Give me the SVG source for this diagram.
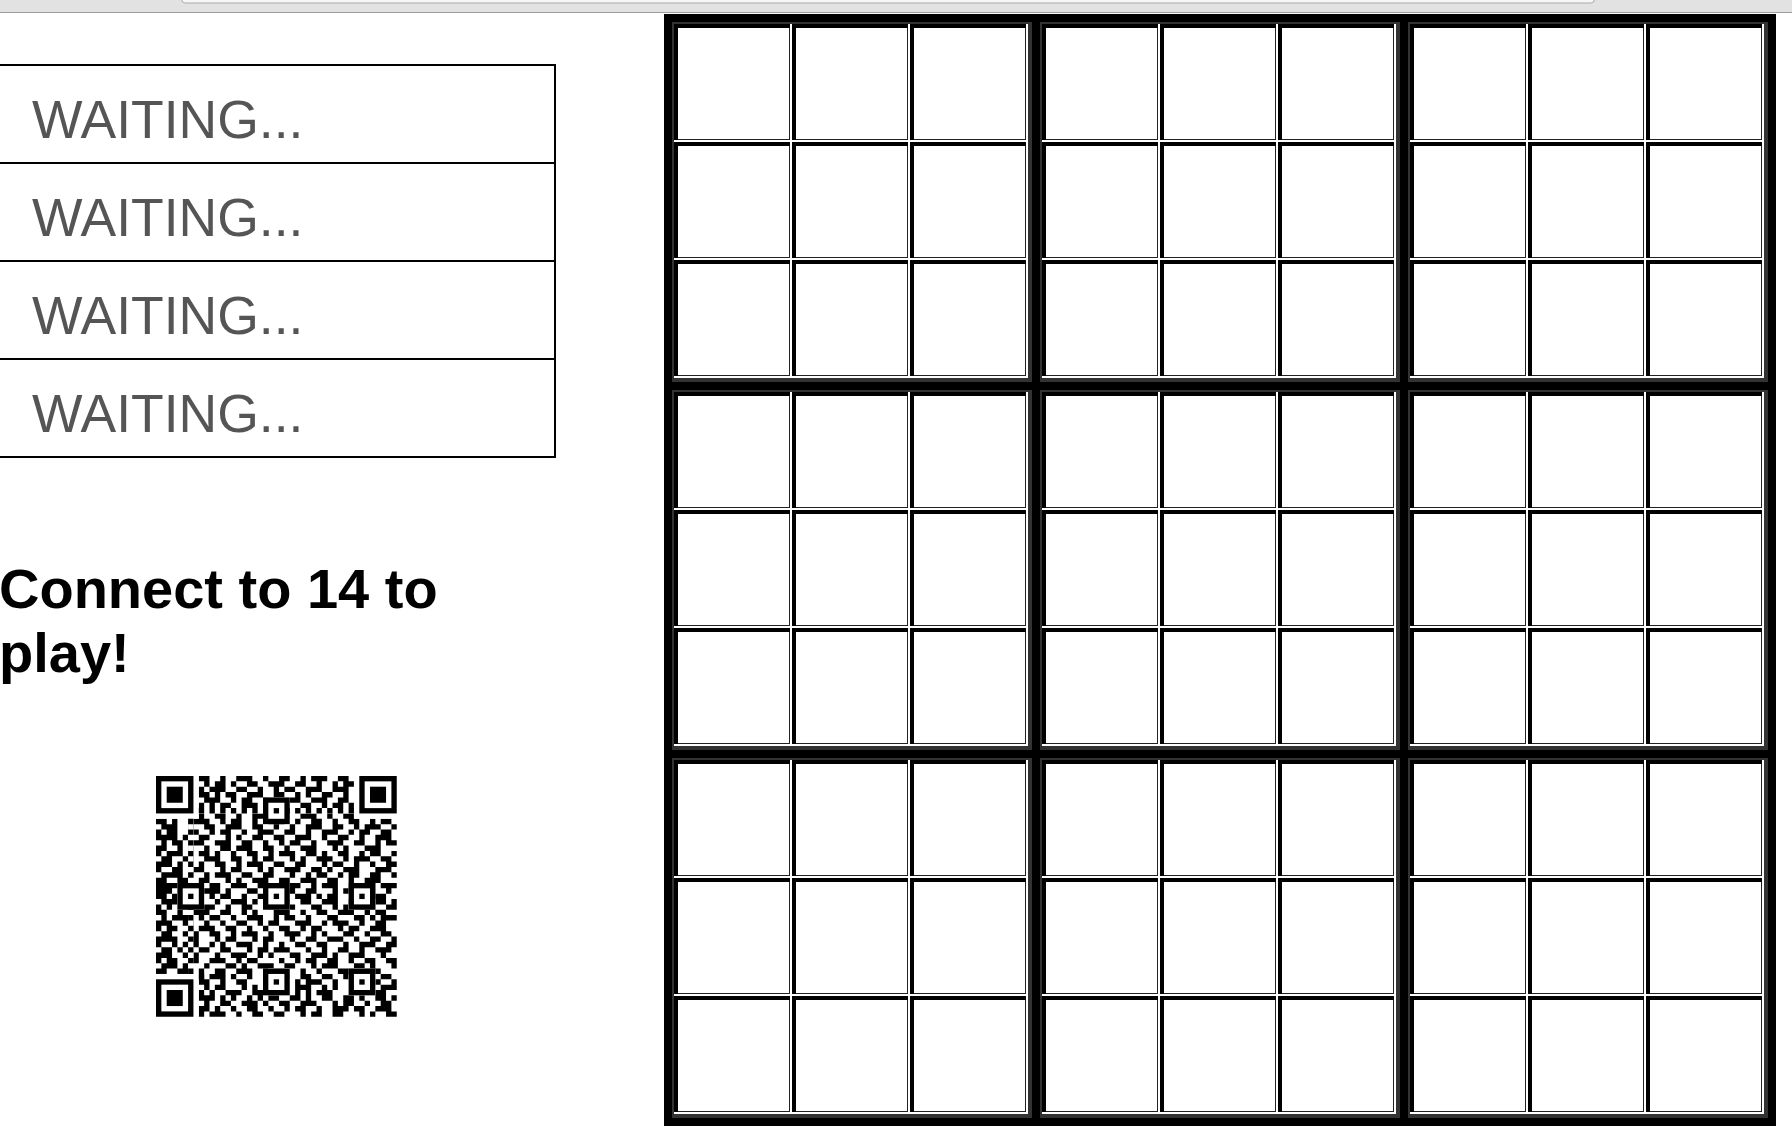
<svg xmlns="http://www.w3.org/2000/svg" xmlns:xlink="http://www.w3.org/1999/xlink" width="1792" height="1134" viewBox="0 0 1792 1134">
<style>
.wait{font-family:"Liberation Sans",Arial,Helvetica,sans-serif;font-size:53.5px;fill:#555555;}
.msg{font-family:"Liberation Sans",Arial,Helvetica,sans-serif;font-size:56px;font-weight:bold;fill:#000;}
.pbox{fill:#fff;stroke:#000;stroke-width:2;}
</style>
<defs>
<g id="cell">
<rect width="118" height="118" fill="#fff"/>
<path d="M0 0h116v4H4v112H0z" fill="#000"/>
<path d="M115 4h1v112H4v-1h111z" fill="#222"/>
</g>
<g id="block">
<rect width="360" height="360" fill="#333"/>
<use href="#cell" x="2" y="2"/><use href="#cell" x="120" y="2"/><use href="#cell" x="238" y="2"/>
<use href="#cell" x="2" y="120"/><use href="#cell" x="120" y="120"/><use href="#cell" x="238" y="120"/>
<use href="#cell" x="2" y="238"/><use href="#cell" x="120" y="238"/><use href="#cell" x="238" y="238"/>
</g>
<g id="finder"><rect width="7" height="7" fill="#000"/><rect x="1" y="1" width="5" height="5" fill="#fff"/><rect x="2" y="2" width="3" height="3" fill="#000"/></g>
<g id="align"><rect width="5" height="5" fill="#000"/><rect x="1" y="1" width="3" height="3" fill="#fff"/><rect x="2" y="2" width="1" height="1" fill="#000"/></g>
</defs>
<rect width="1792" height="1134" fill="#fff"/>
<g id="topbar">
<rect x="0" y="0" width="1792" height="13" fill="#e2e2e2"/>
<rect x="181.5" y="-10" width="1413" height="13" rx="4" fill="#f7f7f7" stroke="#a9a9a9" stroke-width="1"/>
<line x1="0" y1="12.5" x2="1792" y2="12.5" stroke="#9c9c9c" stroke-width="1"/>
</g>
<g id="players">
<g id="player1"><rect class="pbox" x="-10" y="65" width="565" height="98"/><text class="wait" x="32" y="138">WAITING...</text></g>
<g id="player2"><rect class="pbox" x="-10" y="163" width="565" height="98"/><text class="wait" x="32" y="236">WAITING...</text></g>
<g id="player3"><rect class="pbox" x="-10" y="261" width="565" height="98"/><text class="wait" x="32" y="334">WAITING...</text></g>
<g id="player4"><rect class="pbox" x="-10" y="359" width="565" height="98"/><text class="wait" x="32" y="432">WAITING...</text></g>
</g>
<g id="message">
<text class="msg" x="-1" y="608">Connect to 14 to</text>
<text class="msg" x="-1" y="672">play!</text>
</g>
<g id="qr" transform="translate(156 776) scale(5.35)">
<path fill="none" stroke="#000" stroke-width="1" d="M8 0.5h2M12 0.5h1M15 0.5h3M20 0.5h1M23 0.5h2M27 0.5h1M29 0.5h3M34 0.5h2
M9 1.5h1M11 1.5h2M14 1.5h1M17 1.5h2M21 1.5h3M26 1.5h2M30 1.5h1M33 1.5h1M35 1.5h2
M8 2.5h1M10 2.5h3M15 2.5h2M19 2.5h1M22 2.5h1M24 2.5h2M28 2.5h3M33 2.5h3
M8 3.5h2M11 3.5h1M13 3.5h2M17 3.5h3M22 3.5h2M26 3.5h1M28 3.5h1M31 3.5h2M35 3.5h1
M9 4.5h3M14 4.5h1M16 4.5h2M20 4.5h1M25 4.5h2M29 4.5h3M34 4.5h2
M8 5.5h1M10 5.5h1M12 5.5h2M16 5.5h3M21 5.5h1M23 5.5h1M27 5.5h2M31 5.5h1M33 5.5h2M36 5.5h1
M8 7.5h1M11 7.5h2M15 7.5h1M18 7.5h2M24 7.5h1M27 7.5h3M32 7.5h1M35 7.5h2
M0 8.5h2M3 8.5h1M7 8.5h3M12 8.5h1M14 8.5h2M18 8.5h1M21 8.5h3M26 8.5h1M29 8.5h2M33 8.5h1M36 8.5h2M40 8.5h1M42 8.5h2
M1 9.5h3M6 9.5h1M9 9.5h2M13 9.5h3M18 9.5h2M22 9.5h1M25 9.5h1M28 9.5h3M33 9.5h2M37 9.5h1M39 9.5h3M44 9.5h1
M0 10.5h1M2 10.5h2M7 10.5h1M10 10.5h1M12 10.5h2M16 10.5h1M19 10.5h3M24 10.5h2M28 10.5h1M31 10.5h3M36 10.5h1M38 10.5h2M42 10.5h2
M0 11.5h4M5 11.5h1M8 11.5h2M13 11.5h1M15 11.5h1M18 11.5h2M22 11.5h2M26 11.5h3M31 11.5h1M34 11.5h2M38 11.5h1M41 11.5h3
M1 12.5h1M3 12.5h2M7 12.5h2M11 12.5h3M16 12.5h2M20 12.5h1M23 12.5h1M25 12.5h2M29 12.5h1M32 12.5h3M37 12.5h2M41 12.5h1M43 12.5h2
M0 13.5h2M4 13.5h1M6 13.5h1M9 13.5h1M12 13.5h2M15 13.5h3M20 13.5h2M24 13.5h1M27 13.5h3M33 13.5h1M35 13.5h1M39 13.5h3
M0 14.5h1M2 14.5h3M8 14.5h2M11 14.5h1M14 14.5h1M17 14.5h2M21 14.5h1M23 14.5h3M28 14.5h2M31 14.5h1M34 14.5h2M38 14.5h1M40 14.5h2M44 14.5h1
M1 15.5h2M5 15.5h2M9 15.5h3M14 15.5h2M18 15.5h1M20 15.5h2M25 15.5h1M27 15.5h1M30 15.5h3M35 15.5h1M37 15.5h3M42 15.5h2
M0 16.5h3M4 16.5h1M8 16.5h1M11 16.5h2M15 16.5h1M17 16.5h3M22 16.5h2M26 16.5h2M31 16.5h1M33 16.5h2M37 16.5h1M40 16.5h1M43 16.5h2
M0 17.5h1M3 17.5h2M7 17.5h2M12 17.5h1M14 17.5h2M19 17.5h1M21 17.5h1M24 17.5h3M29 17.5h2M32 17.5h1M35 17.5h3M41 17.5h3
M1 18.5h4M6 18.5h1M9 18.5h1M11 18.5h3M16 18.5h2M20 18.5h2M25 18.5h1M28 18.5h1M30 18.5h2M34 18.5h1M36 18.5h2M40 18.5h2M44 18.5h1
M0 19.5h2M4 19.5h2M8 19.5h2M13 19.5h1M15 19.5h1M18 19.5h3M23 19.5h2M27 19.5h3M32 19.5h2M36 19.5h1M39 19.5h3
M0 20.5h5M7 20.5h1M10 20.5h2M14 20.5h3M19 20.5h1M22 20.5h1M25 20.5h2M29 20.5h1M31 20.5h3M36 20.5h2M40 20.5h1M42 20.5h3
M0 21.5h3M5 21.5h1M9 21.5h3M13 21.5h1M17 21.5h2M21 21.5h1M24 21.5h2M28 21.5h2M33 21.5h1M35 21.5h2M39 21.5h2M43 21.5h1
M0 22.5h2M3 22.5h1M7 22.5h1M10 22.5h1M12 22.5h2M16 22.5h1M19 22.5h2M23 22.5h1M26 22.5h3M30 22.5h1M32 22.5h2M37 22.5h1M40 22.5h3
M1 23.5h3M6 23.5h2M11 23.5h1M14 23.5h3M18 23.5h1M20 23.5h1M24 23.5h1M27 23.5h2M31 23.5h3M36 23.5h2M41 23.5h2M44 23.5h1
M0 24.5h1M2 24.5h1M5 24.5h2M9 24.5h2M13 24.5h1M16 24.5h2M21 24.5h2M25 24.5h1M29 24.5h2M33 24.5h1M35 24.5h1M38 24.5h3M43 24.5h2
M0 25.5h2M4 25.5h1M7 25.5h3M12 25.5h2M16 25.5h1M18 25.5h1M22 25.5h3M27 25.5h1M30 25.5h2M34 25.5h3M39 25.5h1M41 25.5h2
M1 26.5h1M3 26.5h3M8 26.5h1M10 26.5h2M14 26.5h1M17 26.5h3M22 26.5h1M24 26.5h2M28 26.5h1M32 26.5h2M37 26.5h2M40 26.5h1M42 26.5h3
M0 27.5h3M5 27.5h2M9 27.5h1M12 27.5h1M15 27.5h2M19 27.5h1M21 27.5h2M26 27.5h3M31 27.5h1M33 27.5h3M38 27.5h1M41 27.5h2
M0 28.5h1M2 28.5h2M6 28.5h1M8 28.5h3M13 28.5h2M17 28.5h1M20 28.5h1M23 28.5h2M27 28.5h1M29 28.5h2M34 28.5h1M36 28.5h2M40 28.5h3
M1 29.5h2M5 29.5h1M7 29.5h1M10 29.5h2M14 29.5h1M16 29.5h3M21 29.5h1M24 29.5h3M29 29.5h1M31 29.5h1M35 29.5h2M39 29.5h1M42 29.5h2
M0 30.5h4M6 30.5h2M11 30.5h1M13 30.5h2M18 30.5h1M20 30.5h2M25 30.5h1M28 30.5h2M32 30.5h3M37 30.5h1M40 30.5h2M44 30.5h1
M0 31.5h1M3 31.5h1M5 31.5h3M10 31.5h1M12 31.5h1M15 31.5h3M20 31.5h1M23 31.5h1M26 31.5h2M30 31.5h2M35 31.5h1M38 31.5h3M43 31.5h2
M1 32.5h2M4 32.5h1M8 32.5h2M12 32.5h2M17 32.5h1M19 32.5h2M22 32.5h3M28 32.5h1M31 32.5h1M34 32.5h2M38 32.5h1M41 32.5h3
M0 33.5h3M5 33.5h1M7 33.5h1M11 33.5h1M14 33.5h3M19 33.5h1M21 33.5h1M25 33.5h2M29 33.5h3M33 33.5h1M36 33.5h3M42 33.5h1
M0 34.5h1M2 34.5h2M6 34.5h2M10 34.5h3M15 34.5h1M17 34.5h2M23 34.5h1M26 34.5h1M28 34.5h2M32 34.5h2M36 34.5h1M39 34.5h2M43 34.5h2
M1 35.5h3M5 35.5h1M9 35.5h1M13 35.5h2M16 35.5h1M19 35.5h3M24 35.5h2M29 35.5h1M31 35.5h3M37 35.5h2M40 35.5h1M44 35.5h1
M0 36.5h2M4 36.5h2M8 36.5h1M11 36.5h2M15 36.5h3M20 36.5h1M22 36.5h2M27 36.5h1M30 36.5h1M34 36.5h3M39 36.5h3
M8 37.5h1M10 37.5h3M14 37.5h1M17 37.5h1M20 37.5h2M24 37.5h1M27 37.5h2M31 37.5h2M35 37.5h1M42 37.5h2
M8 38.5h2M12 38.5h1M15 38.5h2M26 38.5h1M28 38.5h3M33 38.5h1M41 38.5h1M44 38.5h1
M9 39.5h1M11 39.5h2M16 39.5h1M18 39.5h1M26 39.5h3M31 39.5h1M33 39.5h1M42 39.5h3
M8 40.5h1M10 40.5h1M13 40.5h3M18 40.5h2M26 40.5h1M28 40.5h1M30 40.5h3M41 40.5h2
M8 41.5h3M12 41.5h1M14 41.5h1M17 41.5h1M19 41.5h1M21 41.5h2M25 41.5h2M28 41.5h1M31 41.5h2M35 41.5h2M38 41.5h1M41 41.5h2M44 41.5h1
M9 42.5h1M12 42.5h2M16 42.5h3M20 42.5h1M23 42.5h2M27 42.5h3M33 42.5h1M35 42.5h2M39 42.5h1M42 42.5h2
M8 43.5h2M11 43.5h1M14 43.5h1M17 43.5h2M21 43.5h1M24 43.5h1M26 43.5h2M30 43.5h1M33 43.5h3M37 43.5h2M41 43.5h3
M8 44.5h1M10 44.5h3M15 44.5h1M18 44.5h2M22 44.5h2M27 44.5h1M29 44.5h2M33 44.5h2M38 44.5h1M40 44.5h1M43 44.5h2"/>
<g fill="#fff">
<rect x="0" y="0" width="8" height="8"/><rect x="37" y="0" width="8" height="8"/><rect x="0" y="37" width="8" height="8"/>
<rect x="8" y="6" width="29" height="1"/><rect x="6" y="8" width="1" height="29"/>
<rect x="20" y="4" width="5" height="5"/><rect x="4" y="20" width="5" height="5"/><rect x="20" y="20" width="5" height="5"/>
<rect x="36" y="20" width="5" height="5"/><rect x="20" y="36" width="5" height="5"/><rect x="36" y="36" width="5" height="5"/>
</g>
<line x1="8" y1="6.5" x2="37" y2="6.5" stroke="#000" stroke-width="1" stroke-dasharray="1 1"/>
<line x1="6.5" y1="8" x2="6.5" y2="37" stroke="#000" stroke-width="1" stroke-dasharray="1 1"/>
<use href="#finder" x="0" y="0"/><use href="#finder" x="38" y="0"/><use href="#finder" x="0" y="38"/>
<use href="#align" x="20" y="4"/><use href="#align" x="4" y="20"/><use href="#align" x="20" y="20"/>
<use href="#align" x="36" y="20"/><use href="#align" x="20" y="36"/><use href="#align" x="36" y="36"/>
<rect x="8" y="37" width="1" height="1" fill="#000"/>
</g>
<g id="sudoku-board">
<rect x="664" y="14" width="1112" height="1112" fill="#000"/>
<use id="block-1" href="#block" x="672" y="22"/>
<use id="block-2" href="#block" x="1040" y="22"/>
<use id="block-3" href="#block" x="1408" y="22"/>
<use id="block-4" href="#block" x="672" y="390"/>
<use id="block-5" href="#block" x="1040" y="390"/>
<use id="block-6" href="#block" x="1408" y="390"/>
<use id="block-7" href="#block" x="672" y="758"/>
<use id="block-8" href="#block" x="1040" y="758"/>
<use id="block-9" href="#block" x="1408" y="758"/>
</g>
<g id="connectors"/>
</svg>
